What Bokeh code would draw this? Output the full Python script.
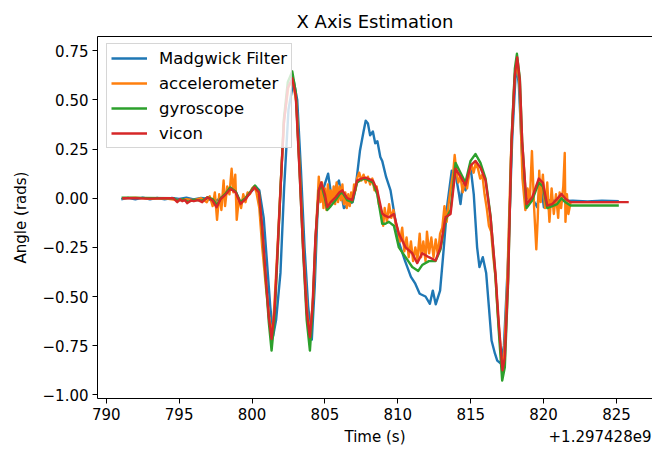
from bokeh.plotting import figure
from bokeh.models import (Range1d, FixedTicker, Legend, LegendItem,
                          LinearAxis, CustomJSTickFormatter)
from bokeh.embed import file_html
from bokeh.resources import INLINE

FONT = "DejaVu Sans"

# ---- data (time in seconds, minus offset 1.297428e9; angle in rads) ----
time_offset_label = "+1.297428e9"

madgwick_t = [791.03, 791.5, 792.0, 792.5, 793.0, 793.5, 794.0, 794.5, 795.0, 795.5,
              796.0, 796.5, 797.0, 797.4, 797.8, 798.2, 798.5, 798.9, 799.2, 799.55,
              799.9, 800.25, 800.5, 800.8, 801.0, 801.25, 801.45, 801.65, 801.95, 802.2,
              802.5, 802.85, 803.1, 803.35, 803.6, 803.85, 804.1, 804.3, 804.5, 804.65,
              804.9, 805.22, 805.5, 805.75, 805.96, 806.3, 806.6, 806.9, 807.1, 807.4,
              807.65, 807.8, 807.95, 808.1, 808.29, 808.45, 808.6, 808.8, 808.93, 809.2,
              809.5, 809.8, 810.1, 810.5, 810.9, 811.2, 811.5, 811.9, 812.2, 812.4,
              812.6, 812.9, 813.1, 813.4, 813.7, 813.96, 814.19, 814.3, 814.46, 814.64,
              814.99, 815.21, 815.44, 815.6, 815.83, 816.06, 816.25, 816.43, 816.66, 816.82,
              817.05, 817.28, 817.57, 817.84, 818.07, 818.19, 818.3, 818.53, 818.76, 819.22,
              819.56, 819.79, 820.02, 820.36, 821.0, 822.0, 823.0, 824.0, 825.16]
madgwick_angle = [-0.005, 0.002, -0.006, 0.003, -0.005, 0.002, -0.006, 0.001, -0.004, 0.003,
                  -0.006, 0.002, -0.004, -0.02, 0.0, 0.02, 0.05, 0.03, -0.02, 0.0,
                  0.03, 0.06, 0.04, -0.10, -0.30, -0.55, -0.70, -0.62, -0.38, 0.05,
                  0.45, 0.60, 0.50, 0.15, -0.25, -0.55, -0.72, -0.45, -0.05, 0.08,
                  0.05, 0.125, -0.02, 0.06, 0.09, -0.05, -0.03, -0.02, 0.05, 0.24,
                  0.34, 0.395, 0.38, 0.32, 0.34, 0.28, 0.29, 0.21, 0.19, 0.107,
                  0.04, -0.097, -0.23, -0.32, -0.40, -0.435, -0.486, -0.50, -0.537, -0.47,
                  -0.54, -0.47, -0.30, -0.03, 0.14, 0.124, 0.024, -0.03, 0.07, 0.04,
                  0.16, 0.02, -0.25, -0.35, -0.30, -0.38, -0.555, -0.724, -0.79, -0.826,
                  -0.84, -0.75, -0.30, 0.29, 0.616, 0.65, 0.58, 0.21, 0.0, 0.0,
                  -0.046, 0.086, -0.046, -0.01, -0.015, -0.012, -0.016, -0.013, -0.015]

accel_t = [791.1, 792.0, 793.0, 794.0, 795.0, 795.5, 796.0, 796.5, 796.9, 797.1,
           797.3, 797.45, 797.6, 797.75, 797.9, 798.05, 798.15, 798.3, 798.45, 798.6,
           798.72, 798.85, 798.95, 799.1, 799.25, 799.4, 799.55, 799.7, 799.85, 800.0,
           800.15, 800.3, 800.5, 800.7, 800.95, 801.2, 801.4, 801.55, 801.75, 801.95,
           802.2, 802.5, 802.8, 803.05, 803.3, 803.55, 803.8, 804.0, 804.2, 804.4,
           804.58, 804.7, 804.8, 804.9, 805.0, 805.1, 805.2, 805.3, 805.4, 805.5,
           805.6, 805.7, 805.8, 805.9, 806.0, 806.1, 806.2, 806.3, 806.4, 806.5,
           806.6, 806.7, 806.8, 806.9, 807.0, 807.1, 807.2, 807.35, 807.5, 807.65,
           807.8, 807.95, 808.1, 808.25, 808.4, 808.55, 808.7, 808.85, 809.0, 809.1,
           809.25, 809.4, 809.55, 809.7, 809.85, 810.0, 810.15, 810.3, 810.45, 810.6,
           810.75, 810.9, 811.05, 811.2, 811.35, 811.5, 811.6, 811.75, 811.9, 812.0,
           812.15, 812.3, 812.45, 812.6, 812.75, 812.9, 813.05, 813.2, 813.35, 813.5,
           813.65, 813.8, 813.9, 814.0, 814.15, 814.3, 814.45, 814.6, 814.75, 814.9,
           815.05, 815.2, 815.35, 815.5, 815.65, 815.8, 815.95, 816.1, 816.25, 816.4,
           816.55, 816.7, 816.85, 817.0, 817.15, 817.3, 817.5, 817.75, 818.0, 818.18,
           818.35, 818.55, 818.75, 818.9, 819.05, 819.2, 819.35, 819.5, 819.6, 819.7,
           819.8, 819.95, 820.1, 820.25, 820.4, 820.55, 820.7, 820.85, 821.0, 821.1,
           821.2, 821.35, 821.45, 821.5, 821.6, 821.7, 821.85, 825.16]
accel_angle = [0.0, 0.003, -0.003, 0.0, -0.01, -0.005, -0.01, 0.0, -0.02, 0.01,
               -0.04, 0.03, -0.11, 0.02, -0.06, 0.09, -0.04, 0.06, 0.02, 0.15,
               0.03, 0.12, -0.11, 0.0, -0.05, 0.02, -0.02, 0.03, 0.02, 0.05,
               0.06, 0.03, -0.05, -0.25, -0.45, -0.62, -0.70, -0.52, -0.25, 0.05,
               0.40, 0.57, 0.60, 0.48, 0.10, -0.30, -0.60, -0.68, -0.50, -0.15,
               0.11, -0.02, 0.08, -0.05, 0.05, -0.06, 0.07, -0.04, 0.04, -0.02,
               0.06, -0.03, 0.08, -0.02, 0.06, -0.01, 0.07, -0.03, 0.03, -0.05,
               0.02, -0.04, 0.03, -0.01, 0.07, 0.04, 0.10, 0.13, 0.09, 0.12,
               0.08, 0.11, 0.07, 0.10, 0.04, 0.06, -0.03, -0.06, -0.14, -0.05,
               -0.12, -0.03, -0.10, -0.06, -0.13, -0.16, -0.22, -0.15, -0.27, -0.20,
               -0.30, -0.22, -0.32, -0.25, -0.31, -0.18, -0.30, -0.22, -0.32, -0.17,
               -0.28, -0.20, -0.30, -0.21, -0.29, -0.18, -0.15, -0.04, -0.12, -0.02,
               0.06, 0.13, 0.22, 0.15, 0.08, 0.11, 0.03, 0.09, 0.05, 0.13,
               0.17, 0.13, 0.18, 0.15, 0.10, 0.12, 0.02, -0.05, -0.14, -0.17,
               -0.30, -0.40, -0.58, -0.72, -0.86, -0.80, -0.45, 0.20, 0.60, 0.70,
               0.58, 0.10, -0.06, 0.05, -0.02, 0.24, -0.05, -0.26, -0.10, 0.14,
               -0.02, 0.12, -0.05, 0.08, -0.12, 0.05, -0.08, 0.02, -0.10, 0.03,
               -0.05, 0.06, 0.23, -0.12, 0.02, -0.08, -0.02, -0.02]

gyro_t = [791.05, 792.5, 794.6, 794.9, 795.3, 795.6, 796.0, 796.6, 796.95, 797.3,
          797.6, 797.85, 798.2, 798.5, 798.87, 799.2, 799.55, 799.9, 800.2, 800.47,
          800.7, 800.93, 801.15, 801.34, 801.54, 801.73, 801.95, 802.18, 802.45, 802.76,
          803.0, 803.25, 803.5, 803.75, 803.97, 804.15, 804.35, 804.58, 804.75, 805.0,
          805.16, 805.4, 805.73, 806.0, 806.19, 806.53, 806.87, 807.21, 807.5, 807.78,
          808.29, 808.59, 808.93, 809.15, 809.39, 809.73, 810.07, 810.53, 810.99, 811.4,
          811.67, 812.13, 812.59, 812.93, 813.27, 813.62, 813.96, 814.3, 814.64, 814.99,
          815.33, 815.67, 816.02, 816.36, 816.7, 816.93, 817.16, 817.34, 817.57, 817.8,
          818.03, 818.17, 818.37, 818.53, 818.83, 819.22, 819.67, 819.95, 820.25, 820.59,
          820.93, 821.23, 821.5, 821.85, 825.16]
gyro_angle = [0.003, 0.002, 0.0, -0.012, -0.005, -0.018, -0.008, -0.012, 0.005, -0.005,
              -0.035, 0.0, 0.025, 0.055, 0.035, -0.02, 0.0, 0.035, 0.065, 0.035,
              -0.16, -0.40, -0.63, -0.775, -0.62, -0.32, 0.04, 0.40, 0.59, 0.645,
              0.54, 0.16, -0.26, -0.62, -0.775, -0.58, -0.21, 0.04, 0.07, 0.0,
              -0.06, -0.04, -0.01, 0.02, 0.03, -0.01, -0.02, 0.08, 0.095, 0.10,
              0.08, 0.02, -0.13, -0.13, -0.12, -0.14, -0.25, -0.30, -0.35, -0.37,
              -0.34, -0.32, -0.32, -0.26, -0.11, -0.06, 0.18, 0.13, 0.08, 0.19,
              0.225, 0.18, 0.10, -0.09, -0.40, -0.68, -0.928, -0.86, -0.42, 0.30,
              0.66, 0.735, 0.61, 0.29, -0.05, -0.01, 0.08, 0.06, -0.05, -0.04,
              -0.03, 0.0, -0.02, -0.037, -0.037]

vicon_t = [791.1, 792.0, 793.0, 794.0, 794.6, 794.87, 795.05, 795.21, 795.4, 795.56,
           795.8, 796.01, 796.3, 796.58, 796.93, 797.27, 797.57, 797.84, 798.18, 798.53,
           798.87, 799.21, 799.55, 799.9, 800.17, 800.47, 800.7, 800.93, 801.15, 801.34,
           801.54, 801.73, 801.95, 802.18, 802.45, 802.76, 803.0, 803.25, 803.5, 803.75,
           803.97, 804.15, 804.35, 804.58, 804.75, 805.0, 805.16, 805.4, 805.73, 806.0,
           806.19, 806.53, 806.87, 807.21, 807.5, 807.78, 808.29, 808.59, 808.93, 809.15,
           809.39, 809.73, 810.07, 810.53, 810.99, 811.33, 811.67, 812.13, 812.59, 812.93,
           813.27, 813.62, 813.96, 814.3, 814.64, 814.99, 815.33, 815.67, 816.02, 816.36,
           816.7, 816.93, 817.18, 817.34, 817.57, 817.8, 818.03, 818.19, 818.37, 818.53,
           818.83, 819.22, 819.67, 819.95, 820.25, 820.59, 820.93, 821.23, 821.5, 821.85,
           825.84]
vicon_angle = [0.0, 0.0, -0.002, 0.0, 0.0, -0.02, -0.005, -0.015, -0.01, -0.025,
               -0.012, -0.015, -0.01, -0.02, 0.005, -0.01, -0.046, -0.005, 0.019, 0.048,
               0.03, -0.029, -0.005, 0.03, 0.056, 0.03, -0.148, -0.385, -0.605, -0.716,
               -0.58, -0.30, 0.04, 0.38, 0.56, 0.61, 0.52, 0.15, -0.25, -0.58,
               -0.707, -0.55, -0.20, 0.04, 0.08, 0.02, -0.046, -0.02, 0.005, 0.03,
               0.04, 0.0, -0.01, 0.09, 0.10, 0.105, 0.09, 0.04, -0.078, -0.09,
               -0.097, -0.08, -0.18, -0.25, -0.28, -0.33, -0.28, -0.30, -0.317, -0.25,
               -0.097, -0.08, 0.15, 0.11, 0.065, 0.166, 0.19, 0.155, 0.09, -0.097,
               -0.383, -0.64, -0.875, -0.81, -0.40, 0.29, 0.63, 0.717, 0.60, 0.29,
               -0.03, 0.005, 0.10, 0.08, -0.037, -0.03, -0.003, 0.022, -0.003, -0.02,
               -0.02]

x_ticks = [790, 795, 800, 805, 810, 815, 820, 825]
y_ticks = [-1.0, -0.75, -0.5, -0.25, 0.0, 0.25, 0.5, 0.75]

series_names = ["Madgwick Filter", "accelerometer", "gyroscope", "vicon"]
series_colors = ["#1f77b4", "#ff7f0e", "#2ca02c", "#d62728"]

X_START, X_END = 789.4, 827.47

# ---- figure ----
p = figure(width=652, height=454, output_backend="svg", toolbar_location=None,
           x_range=Range1d(X_START, X_END), y_range=Range1d(-1.019, 0.823),
           min_border_left=97, min_border_right=0, min_border_top=36,
           min_border_bottom=56, title="X Axis Estimation",
           y_axis_label="Angle (rads)")
p.outline_line_color = None
p.grid.visible = False
p.background_fill_color = "white"
p.border_fill_color = "white"

p.title.text_font = FONT
p.title.text_font_size = "18px"
p.title.text_font_style = "normal"
p.title.text_color = "black"
p.title.align = "center"
p.title.offset = 8

for ax in (p.xaxis[0], p.yaxis[0]):
    ax.axis_line_color = "black"
    ax.axis_line_width = 1
    ax.major_tick_line_color = "black"
    ax.major_tick_out = 5
    ax.major_tick_in = 0
    ax.minor_tick_line_color = None
    ax.major_label_text_font = FONT
    ax.major_label_text_font_size = "15px"
    ax.major_label_text_color = "black"
    ax.axis_label_text_font = FONT
    ax.axis_label_text_font_size = "15px"
    ax.axis_label_text_font_style = "normal"
    ax.axis_label_text_color = "black"
    ax.major_label_standoff = 4

p.xaxis[0].ticker = FixedTicker(ticks=x_ticks)
p.yaxis[0].ticker = FixedTicker(ticks=y_ticks)
p.xaxis[0].formatter = CustomJSTickFormatter(code="return tick.toFixed(0);")
p.yaxis[0].formatter = CustomJSTickFormatter(
    code="return (tick < 0 ? '\u2212' : '') + Math.abs(tick).toFixed(2);")
p.yaxis[0].axis_label_standoff = 10

# second row under the x axis: the offset text (as a tick label at the right)
# and the axis title "Time (s)" pulled up onto the same row
offset_tick = X_END - 3.6
label_axis = LinearAxis(
    ticker=FixedTicker(ticks=[offset_tick]),
    formatter=CustomJSTickFormatter(code="return '%s';" % time_offset_label),
    axis_line_color=None, major_tick_line_color=None, minor_tick_line_color=None,
    major_tick_out=0, major_tick_in=0, major_label_standoff=7,
    major_label_text_font=FONT, major_label_text_font_size="15px",
    major_label_text_color="black",
    axis_label="Time (s)", axis_label_standoff=-17,
    axis_label_text_font=FONT, axis_label_text_font_size="15px",
    axis_label_text_font_style="normal", axis_label_text_color="black")
p.add_layout(label_axis, "below")

top_axis = LinearAxis(ticker=FixedTicker(ticks=[]), axis_line_color="black",
                      major_tick_out=0, major_tick_in=0, minor_tick_line_color=None,
                      major_label_standoff=0, major_label_text_font_size="0px")
p.add_layout(top_axis, "above")

renderers = []
for t, a, c in [(madgwick_t, madgwick_angle, series_colors[0]),
                (accel_t, accel_angle, series_colors[1]),
                (gyro_t, gyro_angle, series_colors[2]),
                (vicon_t, vicon_angle, series_colors[3])]:
    r = p.line(t, a, line_color=c, line_width=2.4, line_join="round")
    renderers.append(r)

legend = Legend(items=[LegendItem(label=n, renderers=[r])
                       for n, r in zip(series_names, renderers)],
                location=(9, 250), margin=0, padding=4, spacing=5,
                glyph_width=36, glyph_height=20, label_height=20,
                label_standoff=12, label_text_font=FONT,
                label_text_font_size="16.5px", label_text_color="black",
                border_line_color="#cccccc", border_line_alpha=0.8,
                background_fill_color="white", background_fill_alpha=0.8)
p.add_layout(legend)

open("out.html", "w").write(file_html(p, INLINE))
